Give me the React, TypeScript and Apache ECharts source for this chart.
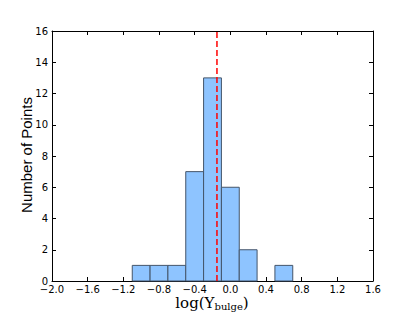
import React, { useEffect, useRef } from "react";
import * as echarts from "echarts";

const binStarts = [-1.1, -0.9, -0.7, -0.5, -0.3, -0.1, 0.1, 0.3, 0.5];
const binWidth = 0.2;
const counts = [1, 1, 1, 7, 13, 6, 2, 0, 1];
const medianValue = -0.15;

const fmt = (v: number) => {
  const s = Math.abs(v).toFixed(1);
  return v < -1e-9 ? "\u2212" + s : s;
};

export default function App() {
  const ref = useRef<HTMLDivElement>(null);
  useEffect(() => {
    if (!ref.current) return;
    const chart = echarts.init(ref.current, null, { renderer: "svg" });
    const barData = binStarts
      .map((s, i) => [s, s + binWidth, counts[i]])
      .filter((d) => d[2] > 0);
    const tickFont = { fontFamily: "DejaVu Sans", fontSize: 10, color: "#000" };
    const axisLine = { show: true, onZero: false, lineStyle: { color: "#000", width: 1 } };
    const axisTick = { show: true, inside: true, length: 4, lineStyle: { color: "#000" } };
    chart.setOption({
      animation: false,
      grid: { left: 52, right: 42, top: 31, bottom: 31 },
      xAxis: [
        {
          type: "value",
          min: -2.0,
          max: 1.6,
          interval: 0.4,
          axisLine,
          axisTick,
          splitLine: { show: false },
          axisLabel: { ...tickFont, margin: 3, formatter: (v: number) => fmt(v) },
        },
        {
          type: "value",
          position: "top",
          min: -2.0,
          max: 1.6,
          interval: 0.4,
          axisLine,
          axisTick,
          splitLine: { show: false },
          axisLabel: { show: false },
        },
      ],
      yAxis: [
        {
          type: "value",
          min: 0,
          max: 16,
          interval: 2,
          axisLine,
          axisTick,
          splitLine: { show: false },
          axisLabel: { ...tickFont, margin: 4 },
        },
        {
          type: "value",
          position: "right",
          min: 0,
          max: 16,
          interval: 2,
          axisLine,
          axisTick,
          splitLine: { show: false },
          axisLabel: { show: false },
        },
      ],
      graphic: [
        {
          type: "text",
          x: 26,
          y: 155,
          rotation: Math.PI / 2,
          style: {
            text: "Number of Points",
            font: "15px 'Liberation Sans', Arial, sans-serif",
            fill: "#000",
            align: "center",
            verticalAlign: "middle",
          },
        },
        {
          type: "text",
          x: 212,
          y: 303,
          style: {
            text: "{m|log(\u03A5}{s|bulge}{m|)}",
            align: "center",
            verticalAlign: "middle",
            rich: {
              m: { fontFamily: "DejaVu Serif", fontSize: 15, color: "#000" },
              s: { fontFamily: "DejaVu Serif", fontSize: 10, color: "#000", padding: [6, 0, 0, 0] },
            },
          },
        },
      ],
      series: [
        {
          type: "custom",
          xAxisIndex: 0,
          yAxisIndex: 0,
          data: barData,
          renderItem: (params: any, api: any) => {
            const p0 = api.coord([api.value(0), api.value(2)]);
            const p1 = api.coord([api.value(1), 0]);
            return {
              type: "rect",
              shape: { x: p0[0], y: p0[1], width: p1[0] - p0[0], height: p1[1] - p0[1] },
              style: { fill: "#8ec4ff", stroke: "#44556a", lineWidth: 1 },
            };
          },
          z: 2,
        },
        {
          type: "line",
          xAxisIndex: 0,
          yAxisIndex: 0,
          data: [
            [medianValue, 0],
            [medianValue, 16],
          ],
          symbol: "none",
          lineStyle: { color: "#ff0000", width: 1.5, type: [6, 3] },
          z: 3,
        },
      ],
    });
    return () => chart.dispose();
  }, []);
  return <div ref={ref} style={{ width: 415, height: 312, position: "absolute", left: 0, top: 0 }} />;
}
